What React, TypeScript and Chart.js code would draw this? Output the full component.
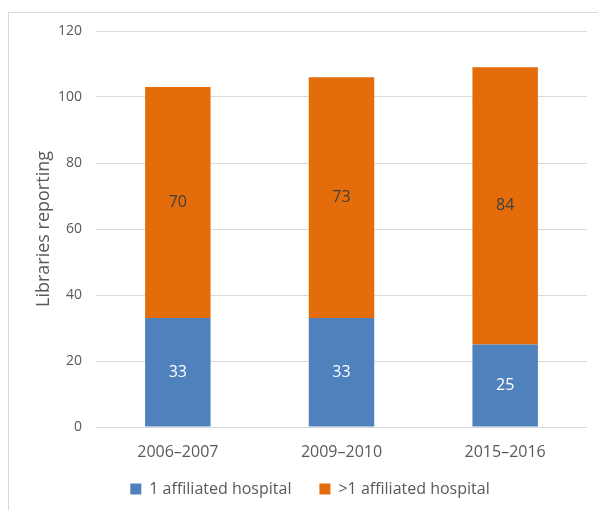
import React, { useEffect, useRef } from "react";
import { Chart, registerables } from "chart.js";

Chart.register(...registerables);

const categories = ["2006–2007", "2009–2010", "2015–2016"];
const oneAffiliated = [33, 33, 25];
const multiAffiliated = [70, 73, 84];
const seriesNames = ["1 affiliated hospital", ">1 affiliated hospital"];
const yTicks = [0, 20, 40, 60, 80, 100, 120];

const FONT = "'Open Sans', 'Noto Sans', sans-serif";
const GRAY = "#595959";

const labelPlugin = {
  id: "barValueLabels",
  afterDatasetsDraw(chart: any) {
    const ctx = chart.ctx;
    ctx.save();
    ctx.font = `16px ${FONT}`;
    ctx.textAlign = "center";
    ctx.textBaseline = "middle";
    chart.data.datasets.forEach((ds: any, di: number) => {
      const meta = chart.getDatasetMeta(di);
      meta.data.forEach((el: any, i: number) => {
        const { x, y, base } = el.getProps(["x", "y", "base"], true);
        ctx.fillStyle = di === 0 ? "#ffffff" : "#404040";
        ctx.fillText(String(ds.data[i]), x, (y + base) / 2);
      });
    });
    ctx.restore();
  },
};

export default function App() {
  const ref = useRef<HTMLCanvasElement | null>(null);
  useEffect(() => {
    if (!ref.current) return;
    const chart = new Chart(ref.current, {
      type: "bar",
      data: {
        labels: categories,
        datasets: [
          {
            label: seriesNames[0],
            data: oneAffiliated,
            backgroundColor: "#4F81BD",
            barPercentage: 0.4,
            categoryPercentage: 1,
          },
          {
            label: seriesNames[1],
            data: multiAffiliated,
            backgroundColor: "#E46C0A",
            barPercentage: 0.4,
            categoryPercentage: 1,
          },
        ],
      },
      options: {
        responsive: false,
        animation: false,
        layout: { padding: { left: 33, right: 11, top: 31, bottom: 3 } },
        plugins: {
          tooltip: { enabled: false },
          legend: {
            position: "bottom",
            labels: {
              boxWidth: 11,
              boxHeight: 11,
              padding: 28,
              color: GRAY,
              font: { family: FONT, size: 16 },
            },
          },
        },
        scales: {
          x: {
            stacked: true,
            afterFit: (axis: any) => {
              axis.height = 26;
            },
            grid: { display: false, drawTicks: false },
            border: { display: false },
            ticks: { color: GRAY, mirror: true, padding: -35, font: { family: FONT, size: 16 } },
          },
          y: {
            stacked: true,
            min: 0,
            max: 120,
            afterFit: (axis: any) => {
              axis.width = 63;
            },
            afterBuildTicks: (axis: any) => {
              axis.ticks = yTicks.map((v) => ({ value: v }));
            },
            grid: { color: "#d9d9d9", drawTicks: false },
            border: { display: false },
            ticks: { color: GRAY, padding: 14, font: { family: FONT, size: 14 } },
            title: {
              display: true,
              text: "Libraries reporting",
              color: GRAY,
              padding: { top: 0, bottom: 0 },
              font: { family: FONT, size: 18 },
            },
          },
        },
      },
      plugins: [labelPlugin],
    });
    return () => chart.destroy();
  }, []);
  return (
    <div style={{ position: "fixed", left: 0, top: 0, width: 598, height: 510, background: "#fff" }}>
      <div
        style={{
          position: "absolute",
          left: 8,
          top: 12,
          right: 0,
          bottom: 0,
          borderLeft: "1px solid #d9d9d9",
          borderTop: "1px solid #d9d9d9",
        }}
      />
      <canvas ref={ref} width={598} height={510} style={{ position: "absolute", left: 0, top: 0 }} />
    </div>
  );
}
